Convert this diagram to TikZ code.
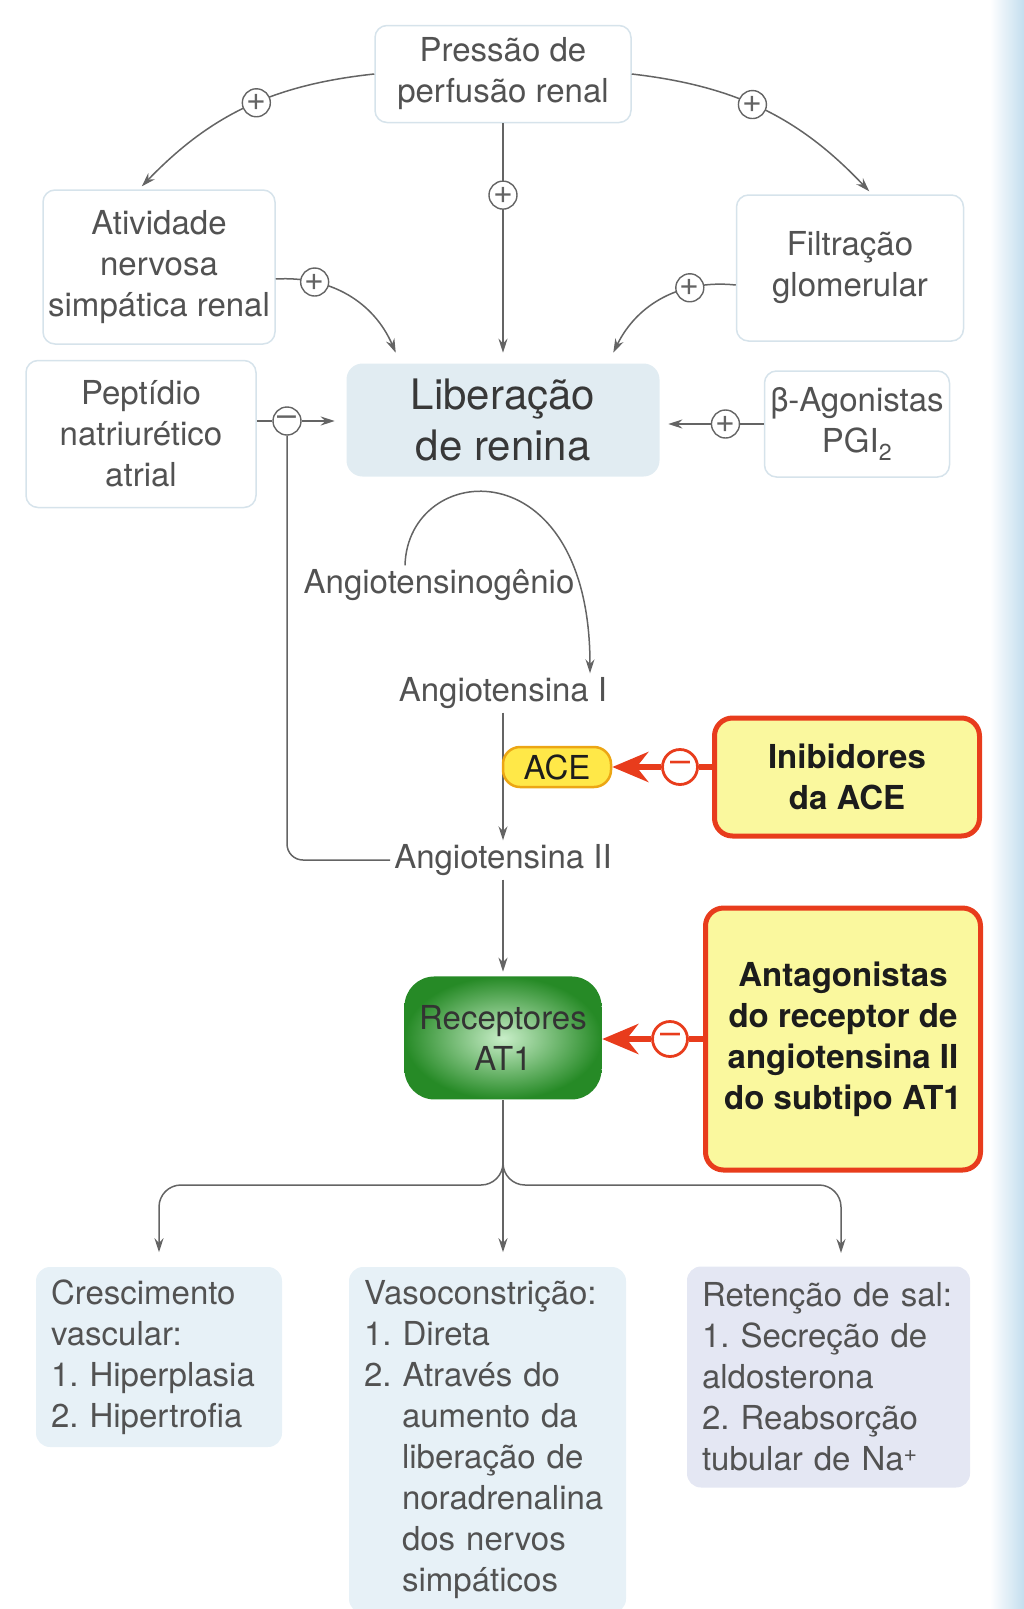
\documentclass[tikz,border=0pt]{standalone}
\usepackage{fontspec}
\setmainfont{TeX Gyre Heros}
\usetikzlibrary{arrows.meta,positioning,shadings}
\frenchspacing

\definecolor{txtgray}{RGB}{82,82,82}
\definecolor{linegray}{RGB}{100,100,100}
\definecolor{palebd}{RGB}{214,227,235}
\definecolor{libfill}{RGB}{225,236,242}
\definecolor{lowblue}{RGB}{231,241,247}
\definecolor{lowlilac}{RGB}{228,231,243}
\definecolor{stripblue}{RGB}{196,222,238}
\definecolor{inhred}{RGB}{232,60,28}
\definecolor{inhfill}{RGB}{250,248,158}
\definecolor{inhtxt}{RGB}{28,28,28}
\definecolor{aceyel}{RGB}{255,232,72}
\definecolor{acebd}{RGB}{236,166,20}
\definecolor{recdark}{RGB}{38,138,38}
\definecolor{reclight}{RGB}{200,238,200}

\newcommand{\subln}{\hspace*{38pt}}

\tikzset{
  lbl/.style={font=\fontsize{33}{41}\selectfont, text=txtgray, align=center},
  pale/.style={lbl, draw=palebd, line width=1.5pt, rounded corners=12pt, fill=white},
  sign/.style={circle, draw=linegray, fill=white, line width=1.4pt, inner sep=0pt,
    minimum size=28pt, font=\fontsize{34}{34}\selectfont, text=linegray},
  redsign/.style={circle, draw=inhred, fill=white, line width=2.8pt, inner sep=0pt,
    minimum size=35pt, font=\fontsize{36}{36}\selectfont, text=inhred},
  inhib/.style={draw=inhred, fill=inhfill, line width=5pt, rounded corners=18pt,
    font=\bfseries\fontsize{33}{41}\selectfont, text=inhtxt, align=center},
  ace/.style={lbl, text=inhtxt, fill=aceyel, draw=acebd, line width=2.5pt, rounded corners=17pt,
    minimum width=108pt, minimum height=40pt, inner sep=2pt},
  receptor/.style={lbl, text=black!80, rounded corners=30pt, inner color=reclight, outer color=recdark},
  effect/.style={lbl, align=left, rounded corners=14pt, inner xsep=15pt},
  block/.style={line width=6pt, draw=inhred},
}

\begin{document}
\begin{tikzpicture}[x=1pt, y=-1pt, >={Stealth[length=14pt,width=9pt]}, line width=1.5pt,
  draw=linegray, node distance=90pt]
\useasboundingbox (0,0) rectangle (1024,1609);
\shade[left color=white, right color=stripblue] (990,0) rectangle (1024,1609);

% sources
\node[pale, minimum width=256pt, minimum height=97pt] (press) at (503,74) {Pressão de\\perfusão renal};
\node[pale, minimum width=232pt, minimum height=154pt] (ativ) at (159,267) {Atividade\\nervosa\\simpática renal};
\node[pale, minimum width=227pt, minimum height=146pt] (filt) at (850,268) {Filtração\\glomerular};
\node[pale, minimum width=230pt, minimum height=147pt] (pept) at (141,434) {Peptídio\\natriurético\\atrial};
\node[pale, minimum width=185pt, minimum height=106pt] (beta) at (857,424) {β-Agonistas\\PGI\textsubscript{2}};
\node[lbl, fill=libfill, rounded corners=16pt, minimum width=313pt, minimum height=113pt,
  font=\fontsize{42}{51}\selectfont, text=black!78] (lib) at (503,420) {Liberação\\de renina};
\node[sign] (pm) at (287,421) {–};

% cascade
\node[lbl] (ogen) at (439,585) {Angiotensinogênio};
\node[lbl] (angI) at (503,693) {Angiotensina I};
\node[lbl] (angII) at (503,860) {Angiotensina II};
\node[inhib, minimum width=265pt, minimum height=118pt] (inib) at (847,777) {Inibidores\\da ACE};
\node[redsign] (mI) at (680,767) {–};
\node[receptor, minimum width=197pt, minimum height=123pt] (rec) [below=96pt of angII] {Receptores\\AT1};
\node[inhib, minimum width=275pt, minimum height=262pt] (antag) at (843,1039)
  {Antagonistas\\do receptor de\\angiotensina II\\do subtipo AT1};
\node[redsign] (mII) at (670,1039) {–};

% effects
\node[effect, fill=lowblue, minimum width=246pt, minimum height=180pt, text width=216pt] (crest) at (159,1357)
  {Crescimento\\vascular:\\1. Hiperplasia\\2. Hipertrofia};
\node[effect, fill=lowblue, minimum width=277pt, minimum height=346pt, text width=247pt] (vaso) at (487.5,1440)
  {Vasoconstrição:\\1. Direta\\2. Através do\\\subln aumento da\\\subln liberação de\\\subln noradrenalina\\\subln dos nervos\\\subln simpáticos};
\node[effect, fill=lowlilac, minimum width=283pt, minimum height=221pt, text width=253pt] (ret) at (828.5,1377)
  {Retenção de sal:\\1. Secreção de\\aldosterona\\2. Reabsorção\\tubular de Na\textsuperscript{+}};
\coordinate (split) at (503,1185);
\coordinate (retin) at (841,1267);

% connectors
\draw[->, shorten >=4pt] (press.west) to[bend right=20] node[sign, pos=0.45] {+} ([xshift=-20pt]ativ.north);
\draw[->, shorten >=4pt] (press.east) to[bend left=20] node[sign, pos=0.45] {+} ([xshift=22pt]filt.north);
\draw[->, shorten >=10pt] (press) -- node[sign, pos=0.3] {+} (lib);
\draw[->] ([yshift=-12pt]ativ.east) to[bend left=35] node[sign, pos=0.25] {+} ([xshift=50pt,yshift=10pt]lib.north west);
\draw[->] ([yshift=-17pt]filt.west) to[bend right=35] node[sign, pos=0.3] {+} ([xshift=-47pt,yshift=10pt]lib.north east);
\draw[->, shorten >=8pt] (beta.west) -- node[sign, pos=0.37] {+} (beta.west -| lib.east);
\draw (pept.east |- pm) -- (pm);
\draw[->, shorten >=11pt] (pm) -- (pm -| lib.west);
\draw[rounded corners=16pt] (angII.west) -| (pm);

\draw[->] ([xshift=-34pt]ogen.north) .. controls +(3,-105) and +(0,-228) .. ([xshift=87pt]angI.north);
\draw[->] (angI) -- (angII);
\draw[->, shorten >=4pt] (angII) -- (rec);

\node[ace] (ace) at (557,767) {ACE};
\draw[block] (mI -| inib.west) -- (mI);
\draw[block, -{Stealth[length=36pt,width=30pt]}] (mI) -- (mI -| ace.east);
\draw[block] (mII -| antag.west) -- (mII);
\draw[block, -{Stealth[length=36pt,width=30pt]}] (mII) -- (mII -| rec.east);

\draw[->, rounded corners=22pt, shorten >=14pt] (rec.south) |- (split -| crest.north) -- (crest.north);
\draw[->, rounded corners=22pt, shorten >=14pt] (rec.south) |- (split -| retin) -- (retin);
\draw[->, shorten >=14pt] (rec) -- (rec.south |- vaso.north);
\end{tikzpicture}
\end{document}
